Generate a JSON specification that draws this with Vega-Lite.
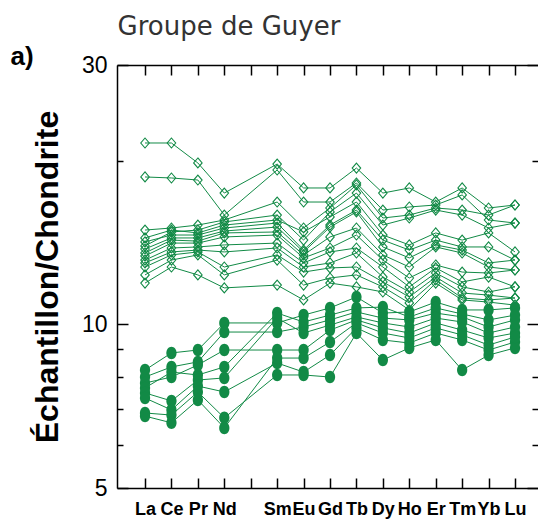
{
"$schema": "https://vega.github.io/schema/vega-lite/v6.json",
"width": 421, "height": 423,
"autosize": {"type": "none"},
"padding": {"left": 117, "top": 65, "right": 0, "bottom": 37},
"background": "white",
"config": {"view": {"stroke": null}, "axis": {"grid": false}},
"datasets": {
"elements": [{"el":"La","z":57},{"el":"Ce","z":58},{"el":"Pr","z":59},{"el":"Nd","z":60},{"el":"Sm","z":62},{"el":"Eu","z":63},{"el":"Gd","z":64},{"el":"Tb","z":65},{"el":"Dy","z":66},{"el":"Ho","z":67},{"el":"Er","z":68},{"el":"Tm","z":69},{"el":"Yb","z":70},{"el":"Lu","z":71}],
"ree": [
{"s":"D1","g":"d","el":"La","v":21.56},{"s":"D1","g":"d","el":"Ce","v":21.56},{"s":"D1","g":"d","el":"Pr","v":19.81},{"s":"D1","g":"d","el":"Nd","v":17.44},{"s":"D1","g":"d","el":"Sm","v":19.72},{"s":"D1","g":"d","el":"Eu","v":17.82},{"s":"D1","g":"d","el":"Gd","v":17.82},{"s":"D1","g":"d","el":"Tb","v":19.39},{"s":"D1","g":"d","el":"Dy","v":17.44},{"s":"D1","g":"d","el":"Ho","v":17.82},{"s":"D1","g":"d","el":"Er","v":16.79},{"s":"D1","g":"d","el":"Tm","v":17.82},{"s":"D1","g":"d","el":"Yb","v":16.37},{"s":"D1","g":"d","el":"Lu","v":16.58},
{"s":"D2","g":"d","el":"La","v":18.67},{"s":"D2","g":"d","el":"Ce","v":18.59},{"s":"D2","g":"d","el":"Pr","v":18.43},{"s":"D2","g":"d","el":"Nd","v":15.89},{"s":"D2","g":"d","el":"Sm","v":19.23},{"s":"D2","g":"d","el":"Eu","v":16.79},{"s":"D2","g":"d","el":"Gd","v":16.79},{"s":"D2","g":"d","el":"Tb","v":18.2},{"s":"D2","g":"d","el":"Dy","v":16.23},{"s":"D2","g":"d","el":"Ho","v":16.44},{"s":"D2","g":"d","el":"Er","v":16.58},{"s":"D2","g":"d","el":"Tm","v":17.3},{"s":"D2","g":"d","el":"Yb","v":15.56},{"s":"D2","g":"d","el":"Lu","v":15.36},
{"s":"D3","g":"d","el":"La","v":14.91},{"s":"D3","g":"d","el":"Ce","v":15.04},{"s":"D3","g":"d","el":"Pr","v":15.23},{"s":"D3","g":"d","el":"Nd","v":15.56},{"s":"D3","g":"d","el":"Sm","v":16.79},{"s":"D3","g":"d","el":"Eu","v":15.04},{"s":"D3","g":"d","el":"Gd","v":16.37},{"s":"D3","g":"d","el":"Tb","v":18.05},{"s":"D3","g":"d","el":"Dy","v":15.69},{"s":"D3","g":"d","el":"Ho","v":15.89},{"s":"D3","g":"d","el":"Er","v":16.37},{"s":"D3","g":"d","el":"Tm","v":16.23},{"s":"D3","g":"d","el":"Yb","v":15.89},{"s":"D3","g":"d","el":"Lu","v":16.58},
{"s":"D4","g":"d","el":"La","v":13.94},{"s":"D4","g":"d","el":"Ce","v":14.79},{"s":"D4","g":"d","el":"Pr","v":14.91},{"s":"D4","g":"d","el":"Nd","v":15.43},{"s":"D4","g":"d","el":"Sm","v":15.89},{"s":"D4","g":"d","el":"Eu","v":14.29},{"s":"D4","g":"d","el":"Gd","v":16.1},{"s":"D4","g":"d","el":"Tb","v":17.44},{"s":"D4","g":"d","el":"Dy","v":15.23},{"s":"D4","g":"d","el":"Ho","v":15.69},{"s":"D4","g":"d","el":"Er","v":16.23},{"s":"D4","g":"d","el":"Tm","v":15.89},{"s":"D4","g":"d","el":"Yb","v":15.04},{"s":"D4","g":"d","el":"Lu","v":15.36},
{"s":"D5","g":"d","el":"La","v":14.42},{"s":"D5","g":"d","el":"Ce","v":14.91},{"s":"D5","g":"d","el":"Pr","v":14.73},{"s":"D5","g":"d","el":"Nd","v":15.23},{"s":"D5","g":"d","el":"Sm","v":15.56},{"s":"D5","g":"d","el":"Eu","v":14.79},{"s":"D5","g":"d","el":"Gd","v":15.76},{"s":"D5","g":"d","el":"Tb","v":16.79},{"s":"D5","g":"d","el":"Dy","v":14.6},{"s":"D5","g":"d","el":"Ho","v":14.0},{"s":"D5","g":"d","el":"Er","v":14.73},{"s":"D5","g":"d","el":"Tm","v":14.29},{"s":"D5","g":"d","el":"Yb","v":14.73},{"s":"D5","g":"d","el":"Lu","v":13.59},
{"s":"D6","g":"d","el":"La","v":14.18},{"s":"D6","g":"d","el":"Ce","v":14.6},{"s":"D6","g":"d","el":"Pr","v":14.6},{"s":"D6","g":"d","el":"Nd","v":15.04},{"s":"D6","g":"d","el":"Sm","v":15.36},{"s":"D6","g":"d","el":"Eu","v":13.7},{"s":"D6","g":"d","el":"Gd","v":15.23},{"s":"D6","g":"d","el":"Tb","v":16.23},{"s":"D6","g":"d","el":"Dy","v":14.29},{"s":"D6","g":"d","el":"Ho","v":13.7},{"s":"D6","g":"d","el":"Er","v":14.29},{"s":"D6","g":"d","el":"Tm","v":13.88},{"s":"D6","g":"d","el":"Yb","v":13.88},{"s":"D6","g":"d","el":"Lu","v":13.13},
{"s":"D7","g":"d","el":"La","v":13.76},{"s":"D7","g":"d","el":"Ce","v":14.42},{"s":"D7","g":"d","el":"Pr","v":14.42},{"s":"D7","g":"d","el":"Nd","v":14.85},{"s":"D7","g":"d","el":"Sm","v":15.1},{"s":"D7","g":"d","el":"Eu","v":13.59},{"s":"D7","g":"d","el":"Gd","v":15.1},{"s":"D7","g":"d","el":"Tb","v":16.1},{"s":"D7","g":"d","el":"Dy","v":13.88},{"s":"D7","g":"d","el":"Ho","v":13.25},{"s":"D7","g":"d","el":"Er","v":14.0},{"s":"D7","g":"d","el":"Tm","v":13.7},{"s":"D7","g":"d","el":"Yb","v":12.97},{"s":"D7","g":"d","el":"Lu","v":13.13},
{"s":"D8","g":"d","el":"La","v":13.53},{"s":"D8","g":"d","el":"Ce","v":14.29},{"s":"D8","g":"d","el":"Pr","v":14.23},{"s":"D8","g":"d","el":"Nd","v":14.73},{"s":"D8","g":"d","el":"Sm","v":14.79},{"s":"D8","g":"d","el":"Eu","v":13.42},{"s":"D8","g":"d","el":"Gd","v":14.48},{"s":"D8","g":"d","el":"Tb","v":15.04},{"s":"D8","g":"d","el":"Dy","v":13.42},{"s":"D8","g":"d","el":"Ho","v":12.75},{"s":"D8","g":"d","el":"Er","v":13.88},{"s":"D8","g":"d","el":"Tm","v":13.53},{"s":"D8","g":"d","el":"Yb","v":12.75},{"s":"D8","g":"d","el":"Lu","v":12.59},
{"s":"D9","g":"d","el":"La","v":13.36},{"s":"D9","g":"d","el":"Ce","v":14.11},{"s":"D9","g":"d","el":"Pr","v":14.11},{"s":"D9","g":"d","el":"Nd","v":14.48},{"s":"D9","g":"d","el":"Sm","v":14.6},{"s":"D9","g":"d","el":"Eu","v":13.25},{"s":"D9","g":"d","el":"Gd","v":13.82},{"s":"D9","g":"d","el":"Tb","v":14.6},{"s":"D9","g":"d","el":"Dy","v":13.13},{"s":"D9","g":"d","el":"Ho","v":12.17},{"s":"D9","g":"d","el":"Er","v":12.86},{"s":"D9","g":"d","el":"Tm","v":12.48},{"s":"D9","g":"d","el":"Yb","v":12.43},{"s":"D9","g":"d","el":"Lu","v":12.59},
{"s":"D10","g":"d","el":"La","v":13.13},{"s":"D10","g":"d","el":"Ce","v":13.82},{"s":"D10","g":"d","el":"Pr","v":13.88},{"s":"D10","g":"d","el":"Nd","v":14.0},{"s":"D10","g":"d","el":"Sm","v":14.11},{"s":"D10","g":"d","el":"Eu","v":12.97},{"s":"D10","g":"d","el":"Gd","v":13.59},{"s":"D10","g":"d","el":"Tb","v":13.82},{"s":"D10","g":"d","el":"Dy","v":12.75},{"s":"D10","g":"d","el":"Ho","v":11.72},{"s":"D10","g":"d","el":"Er","v":12.7},{"s":"D10","g":"d","el":"Tm","v":11.97},{"s":"D10","g":"d","el":"Yb","v":12.22},{"s":"D10","g":"d","el":"Lu","v":11.72},
{"s":"D11","g":"d","el":"La","v":12.97},{"s":"D11","g":"d","el":"Ce","v":13.59},{"s":"D11","g":"d","el":"Pr","v":13.7},{"s":"D11","g":"d","el":"Nd","v":13.59},{"s":"D11","g":"d","el":"Sm","v":13.82},{"s":"D11","g":"d","el":"Eu","v":12.75},{"s":"D11","g":"d","el":"Gd","v":12.97},{"s":"D11","g":"d","el":"Tb","v":13.53},{"s":"D11","g":"d","el":"Dy","v":12.22},{"s":"D11","g":"d","el":"Ho","v":11.47},{"s":"D11","g":"d","el":"Er","v":12.43},{"s":"D11","g":"d","el":"Tm","v":11.72},{"s":"D11","g":"d","el":"Yb","v":11.47},{"s":"D11","g":"d","el":"Lu","v":11.72},
{"s":"D12","g":"d","el":"La","v":12.75},{"s":"D12","g":"d","el":"Ce","v":13.42},{"s":"D12","g":"d","el":"Pr","v":13.59},{"s":"D12","g":"d","el":"Nd","v":12.75},{"s":"D12","g":"d","el":"Sm","v":13.42},{"s":"D12","g":"d","el":"Eu","v":12.48},{"s":"D12","g":"d","el":"Gd","v":12.7},{"s":"D12","g":"d","el":"Tb","v":12.75},{"s":"D12","g":"d","el":"Dy","v":11.97},{"s":"D12","g":"d","el":"Ho","v":11.23},{"s":"D12","g":"d","el":"Er","v":12.22},{"s":"D12","g":"d","el":"Tm","v":11.42},{"s":"D12","g":"d","el":"Yb","v":11.32},{"s":"D12","g":"d","el":"Lu","v":11.18},
{"s":"D13","g":"d","el":"La","v":12.33},{"s":"D13","g":"d","el":"Ce","v":13.13},{"s":"D13","g":"d","el":"Pr","v":13.42},{"s":"D13","g":"d","el":"Nd","v":12.33},{"s":"D13","g":"d","el":"Sm","v":13.13},{"s":"D13","g":"d","el":"Eu","v":11.81},{"s":"D13","g":"d","el":"Gd","v":12.17},{"s":"D13","g":"d","el":"Tb","v":12.33},{"s":"D13","g":"d","el":"Dy","v":11.72},{"s":"D13","g":"d","el":"Ho","v":10.95},{"s":"D13","g":"d","el":"Er","v":12.07},{"s":"D13","g":"d","el":"Tm","v":11.18},{"s":"D13","g":"d","el":"Yb","v":11.09},{"s":"D13","g":"d","el":"Lu","v":11.18},
{"s":"D14","g":"d","el":"La","v":11.91},{"s":"D14","g":"d","el":"Ce","v":12.75},{"s":"D14","g":"d","el":"Pr","v":12.33},{"s":"D14","g":"d","el":"Nd","v":11.67},{"s":"D14","g":"d","el":"Sm","v":11.81},{"s":"D14","g":"d","el":"Eu","v":11.09},{"s":"D14","g":"d","el":"Gd","v":11.91},{"s":"D14","g":"d","el":"Tb","v":11.72},{"s":"D14","g":"d","el":"Dy","v":11.47},{"s":"D14","g":"d","el":"Ho","v":10.63},{"s":"D14","g":"d","el":"Er","v":11.91},{"s":"D14","g":"d","el":"Tm","v":11.09},{"s":"D14","g":"d","el":"Yb","v":10.99},{"s":"D14","g":"d","el":"Lu","v":10.85},
{"s":"C1","g":"c","el":"La","v":8.24},{"s":"C1","g":"c","el":"Ce","v":8.86},{"s":"C1","g":"c","el":"Pr","v":8.97},{"s":"C1","g":"c","el":"Nd","v":10.06},{"s":"C1","g":"c","el":"Sm","v":10.06},{"s":"C1","g":"c","el":"Eu","v":10.4},{"s":"C1","g":"c","el":"Gd","v":10.72},{"s":"C1","g":"c","el":"Tb","v":11.23},{"s":"C1","g":"c","el":"Dy","v":10.49},{"s":"C1","g":"c","el":"Ho","v":10.54},{"s":"C1","g":"c","el":"Er","v":10.99},{"s":"C1","g":"c","el":"Tm","v":10.63},{"s":"C1","g":"c","el":"Yb","v":10.63},{"s":"C1","g":"c","el":"Lu","v":10.72},
{"s":"C2","g":"c","el":"La","v":8.0},{"s":"C2","g":"c","el":"Ce","v":8.35},{"s":"C2","g":"c","el":"Pr","v":8.53},{"s":"C2","g":"c","el":"Nd","v":9.68},{"s":"C2","g":"c","el":"Sm","v":9.68},{"s":"C2","g":"c","el":"Eu","v":9.89},{"s":"C2","g":"c","el":"Gd","v":10.19},{"s":"C2","g":"c","el":"Tb","v":10.54},{"s":"C2","g":"c","el":"Dy","v":10.27},{"s":"C2","g":"c","el":"Ho","v":10.19},{"s":"C2","g":"c","el":"Er","v":10.49},{"s":"C2","g":"c","el":"Tm","v":10.32},{"s":"C2","g":"c","el":"Yb","v":9.89},{"s":"C2","g":"c","el":"Lu","v":10.19},
{"s":"C3","g":"c","el":"La","v":7.8},{"s":"C3","g":"c","el":"Ce","v":8.0},{"s":"C3","g":"c","el":"Pr","v":8.42},{"s":"C3","g":"c","el":"Nd","v":8.97},{"s":"C3","g":"c","el":"Sm","v":8.97},{"s":"C3","g":"c","el":"Eu","v":8.97},{"s":"C3","g":"c","el":"Gd","v":9.76},{"s":"C3","g":"c","el":"Tb","v":10.19},{"s":"C3","g":"c","el":"Dy","v":9.85},{"s":"C3","g":"c","el":"Ho","v":9.64},{"s":"C3","g":"c","el":"Er","v":10.06},{"s":"C3","g":"c","el":"Tm","v":9.76},{"s":"C3","g":"c","el":"Yb","v":9.44},{"s":"C3","g":"c","el":"Lu","v":9.64},
{"s":"C4","g":"c","el":"La","v":7.64},{"s":"C4","g":"c","el":"Ce","v":8.17},{"s":"C4","g":"c","el":"Pr","v":8.07},{"s":"C4","g":"c","el":"Nd","v":8.35},{"s":"C4","g":"c","el":"Sm","v":10.49},{"s":"C4","g":"c","el":"Eu","v":10.1},{"s":"C4","g":"c","el":"Gd","v":10.4},{"s":"C4","g":"c","el":"Tb","v":10.72},{"s":"C4","g":"c","el":"Dy","v":10.76},{"s":"C4","g":"c","el":"Ho","v":10.32},{"s":"C4","g":"c","el":"Er","v":10.72},{"s":"C4","g":"c","el":"Tm","v":10.45},{"s":"C4","g":"c","el":"Yb","v":10.19},{"s":"C4","g":"c","el":"Lu","v":10.4},
{"s":"C5","g":"c","el":"La","v":7.48},{"s":"C5","g":"c","el":"Ce","v":7.23},{"s":"C5","g":"c","el":"Pr","v":7.9},{"s":"C5","g":"c","el":"Nd","v":7.97},{"s":"C5","g":"c","el":"Sm","v":10.27},{"s":"C5","g":"c","el":"Eu","v":9.64},{"s":"C5","g":"c","el":"Gd","v":9.97},{"s":"C5","g":"c","el":"Tb","v":10.32},{"s":"C5","g":"c","el":"Dy","v":10.06},{"s":"C5","g":"c","el":"Ho","v":9.89},{"s":"C5","g":"c","el":"Er","v":10.27},{"s":"C5","g":"c","el":"Tm","v":10.1},{"s":"C5","g":"c","el":"Yb","v":9.64},{"s":"C5","g":"c","el":"Lu","v":9.89},
{"s":"C6","g":"c","el":"La","v":7.32},{"s":"C6","g":"c","el":"Ce","v":6.96},{"s":"C6","g":"c","el":"Pr","v":7.7},{"s":"C6","g":"c","el":"Nd","v":7.51},{"s":"C6","g":"c","el":"Sm","v":8.49},{"s":"C6","g":"c","el":"Eu","v":8.17},{"s":"C6","g":"c","el":"Gd","v":8.78},{"s":"C6","g":"c","el":"Tb","v":9.85},{"s":"C6","g":"c","el":"Dy","v":9.36},{"s":"C6","g":"c","el":"Ho","v":9.24},{"s":"C6","g":"c","el":"Er","v":9.64},{"s":"C6","g":"c","el":"Tm","v":9.36},{"s":"C6","g":"c","el":"Yb","v":8.97},{"s":"C6","g":"c","el":"Lu","v":9.28},
{"s":"C7","g":"c","el":"La","v":6.87},{"s":"C7","g":"c","el":"Ce","v":6.81},{"s":"C7","g":"c","el":"Pr","v":7.51},{"s":"C7","g":"c","el":"Nd","v":6.73},{"s":"C7","g":"c","el":"Sm","v":8.07},{"s":"C7","g":"c","el":"Eu","v":8.07},{"s":"C7","g":"c","el":"Gd","v":8.0},{"s":"C7","g":"c","el":"Tb","v":9.64},{"s":"C7","g":"c","el":"Dy","v":8.6},{"s":"C7","g":"c","el":"Ho","v":9.05},{"s":"C7","g":"c","el":"Er","v":9.36},{"s":"C7","g":"c","el":"Tm","v":8.24},{"s":"C7","g":"c","el":"Yb","v":8.78},{"s":"C7","g":"c","el":"Lu","v":9.05},
{"s":"C8","g":"c","el":"La","v":6.78},{"s":"C8","g":"c","el":"Ce","v":6.59},{"s":"C8","g":"c","el":"Pr","v":7.26},{"s":"C8","g":"c","el":"Nd","v":6.45},{"s":"C8","g":"c","el":"Sm","v":8.67},{"s":"C8","g":"c","el":"Eu","v":8.67},{"s":"C8","g":"c","el":"Gd","v":9.28},{"s":"C8","g":"c","el":"Tb","v":10.06},{"s":"C8","g":"c","el":"Dy","v":9.64},{"s":"C8","g":"c","el":"Ho","v":9.44},{"s":"C8","g":"c","el":"Er","v":9.85},{"s":"C8","g":"c","el":"Tm","v":9.56},{"s":"C8","g":"c","el":"Yb","v":9.16},{"s":"C8","g":"c","el":"Lu","v":9.48}
]},
"data": {"name": "ree"},
"transform": [{"lookup": "el", "from": {"data": {"name": "elements"}, "key": "el", "fields": ["z"]}}],
"layer": [
{
"mark": {"type": "line", "color": "#128a46", "strokeWidth": 1},
"encoding": {
"x": {"field": "z", "type": "quantitative", "scale": {"domain": [55.94, 71.87], "nice": false, "zero": false},
 "axis": {"orient": "bottom", "title": null, "values": [57,58,59,60,61,62,63,64,65,66,67,68,69,70,71],
  "labelExpr": "['La','Ce','Pr','Nd','','Sm','Eu','Gd','Tb','Dy','Ho','Er','Tm','Yb','Lu'][datum.value-57]",
  "tickSize": -10, "tickColor": "black", "tickWidth": 1.5, "domainColor": "black", "domainWidth": 1.5,
  "labelPadding": 22, "labelFont": "Liberation Sans", "labelFontSize": 18, "labelFontWeight": "bold", "labelColor": "black",
  "labelFlush": false, "labelOverlap": false, "labelBound": false}},
"y": {"field": "v", "type": "quantitative", "scale": {"type": "log", "domain": [5, 30], "nice": false},
 "axis": {"orient": "left", "values": [5,6,7,8,9,10,20,30],
  "labelExpr": "(datum.value == 5 || datum.value == 10 || datum.value == 30) ? datum.label : ''",
  "tickSize": {"condition": {"test": "datum.value == 5 || datum.value == 10 || datum.value == 30", "value": -11}, "value": -6},
  "tickColor": "black", "tickWidth": 1.5, "domainColor": "black", "domainWidth": 1.5,
  "labelPadding": 21, "labelFont": "Liberation Sans", "labelFontSize": 23, "labelColor": "black",
  "labelOverlap": false, "labelFlush": false, "labelBound": false,
  "title": "Échantillon/Chondrite", "titleFont": "Liberation Sans", "titleFontSize": 32, "titleFontWeight": "bold", "titleColor": "black",
  "titleAngle": -90, "titleX": -60, "titleY": 211.5, "titleAlign": "center", "titleBaseline": "alphabetic"}},
"detail": {"field": "s"}
}
},
{
"transform": [{"filter": "datum.g == 'd'"}],
"mark": {"type": "point", "shape": "M0,-1L0.85,0L0,1L-0.85,0Z", "filled": false, "size": 100, "color": "#128a46", "strokeWidth": 1.1, "opacity": 1},
"encoding": {
"x": {"field": "z", "type": "quantitative",
 "axis": {"orient": "top", "values": [57,58,59,60,61,62,63,64,65,66,67,68,69,70,71], "labels": false,
  "tickSize": -10, "tickColor": "black", "tickWidth": 1.5, "domainColor": "black", "domainWidth": 1.5,
  "title": "a)", "titleFont": "Liberation Sans", "titleFontSize": 26, "titleFontWeight": "bold", "titleColor": "black",
  "titleX": -107, "titleY": -1, "titleAlign": "left", "titleBaseline": "alphabetic", "titleAngle": 0}},
"y": {"field": "v", "type": "quantitative",
 "axis": {"orient": "right", "values": [5,6,7,8,9,10,20,30], "labels": false, "domain": false,
  "tickSize": {"condition": {"test": "datum.value == 5 || datum.value == 10 || datum.value == 30", "value": -11}, "value": -6},
  "tickColor": "black", "tickWidth": 1.5,
  "title": "Groupe de Guyer", "titleFont": "DejaVu Sans", "titleFontSize": 26, "titleFontWeight": "normal", "titleColor": "#333333",
  "titleX": -421, "titleY": -31, "titleAlign": "left", "titleBaseline": "alphabetic", "titleAngle": 0}}
}
},
{
"transform": [{"filter": "datum.g == 'c'"}],
"mark": {"type": "point", "shape": "M0,-1A0.82,1,0,1,1,0,1A0.82,1,0,1,1,0,-1Z", "filled": true, "size": 156, "color": "#128a46", "opacity": 1},
"encoding": {
"x": {"field": "z", "type": "quantitative", "axis": null},
"y": {"field": "v", "type": "quantitative", "axis": null}
}
}
],
"resolve": {"axis": {"x": "independent", "y": "independent"}}
}
